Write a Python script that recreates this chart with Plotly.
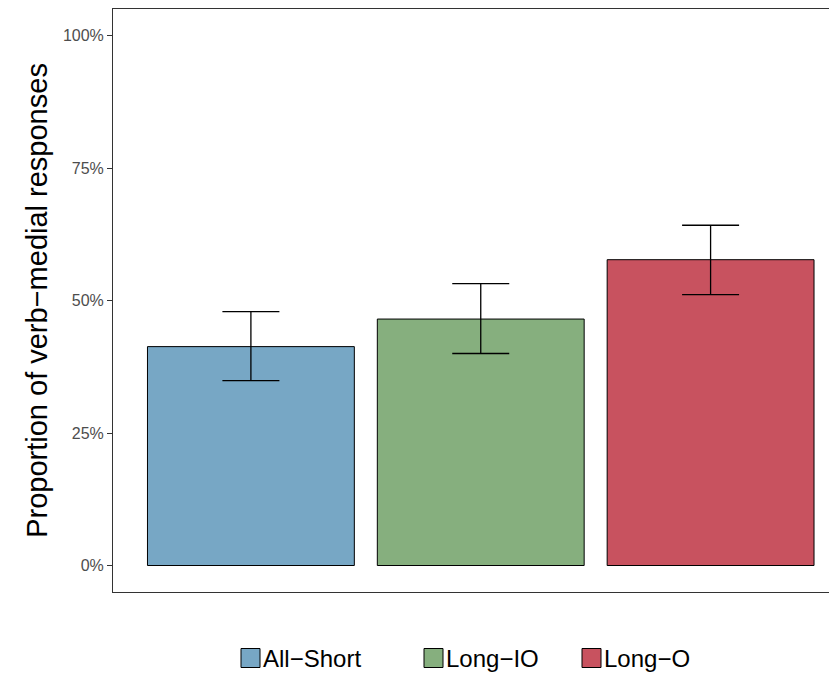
import plotly.graph_objects as go

categories = ["All\u2212Short", "Long\u2212IO", "Long\u2212O"]
proportions = [0.413, 0.465, 0.577]
err_upper = [0.479, 0.532, 0.642]
err_lower = [0.349, 0.400, 0.511]
colors = ["#77A7C5", "#86AF7E", "#C8525F"]
y_ticks = [0, 0.25, 0.5, 0.75, 1.0]
y_ticklabels = ["0%", "25%", "50%", "75%", "100%"]

# page is rendered with an 8px body margin; compensate
OFF = 8
W, H = 837 - OFF, 675 - OFF
ML, MR, MT, MB = 112 - OFF + 1, 0, 1, 675 - 591 - 1
pw, ph = W - ML - MR, H - MT - MB

xs = [1, 2, 3]
fig = go.Figure()
fig.add_trace(go.Bar(
    x=xs, y=proportions, width=0.9,
    marker=dict(color=colors, line=dict(color="black", width=1)),
    error_y=dict(type="data", symmetric=False,
                 array=[u - p for u, p in zip(err_upper, proportions)],
                 arrayminus=[p - l for p, l in zip(proportions, err_lower)],
                 color="black", thickness=1.3, width=28.5),
    showlegend=False,
))

# manual legend (ggplot-like keys), positions in page pixels
key = 19
legend_left_px = [241, 424, 582]
legend_y_px = 658
for i, (cat, col) in enumerate(zip(categories, colors)):
    lx = legend_left_px[i] - OFF
    ly = legend_y_px - OFF
    x0 = (lx - ML) / pw
    x1 = (lx + key - ML) / pw
    y0 = (H - MB - (ly + key / 2)) / ph
    y1 = (H - MB - (ly - key / 2)) / ph
    fig.add_shape(type="rect", xref="paper", yref="paper", x0=x0, x1=x1, y0=y0, y1=y1,
                  fillcolor=col, line=dict(color="black", width=1))
    fig.add_annotation(xref="paper", yref="paper", x=x1 + 1 / pw, y=(y0 + y1) / 2,
                       text=cat, showarrow=False, xanchor="left", yanchor="middle",
                       font=dict(size=24, color="black"))

fig.update_layout(
    width=W, height=H,
    margin=dict(l=ML, r=MR, t=MT, b=MB),
    paper_bgcolor="white", plot_bgcolor="white",
    font=dict(family="Liberation Sans, Arial, sans-serif"),
    xaxis=dict(range=[0.4, 3.55], showticklabels=False, ticks="",
               showgrid=False, zeroline=False,
               showline=True, linecolor="#333333", linewidth=1, mirror=True),
    yaxis=dict(range=[-0.05, 1.05], tickvals=y_ticks, ticktext=y_ticklabels,
               ticks="outside", ticklen=5, tickcolor="#333333", tickwidth=1,
               tickfont=dict(size=16, color="#4D4D4D"),
               showgrid=False, zeroline=False,
               showline=True, linecolor="#333333", linewidth=1,
               title=dict(text="Proportion of verb\u2212medial responses",
                          font=dict(size=29, color="black"), standoff=6)),
    showlegend=False,
)

fig.write_html("out.html")
